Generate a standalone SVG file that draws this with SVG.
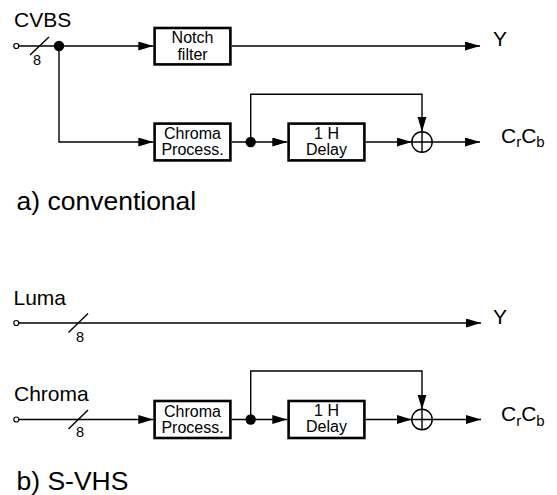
<svg xmlns="http://www.w3.org/2000/svg" width="557" height="495" viewBox="0 0 557 495">
<defs>
<style>
text{font-family:"Liberation Sans",Arial,sans-serif;fill:#000}
.lbl{font-size:21px}
.cap{font-size:26.5px}
.box{font-size:16px;text-anchor:middle}
.num{font-size:14.5px}
.sub{font-size:15px}
rect.b{fill:#fff;stroke:#000;stroke-width:2.6}
.ln{fill:none;stroke:#000;stroke-width:1.4}
.in{fill:#fff;stroke:#000;stroke-width:1.2}
.dot{fill:#000}
.sum{fill:#fff;stroke:#000;stroke-width:1.4}
</style>
<marker id="ar" markerUnits="userSpaceOnUse" markerWidth="16" markerHeight="10" refX="15" refY="4.5" orient="auto" viewBox="0 0 16 10">
<path d="M0,0 L15,4.5 L0,9 z" fill="#000"/>
</marker>
</defs>
<rect width="557" height="495" fill="#fff"/>

<g id="connectors">
<!-- a) conventional -->
<path class="ln" d="M18.7,46 H153.3" marker-end="url(#ar)"/>
<path class="ln" d="M59,46 V142 H153.3" marker-end="url(#ar)"/>
<path class="ln" d="M231.7,46 H480" marker-end="url(#ar)"/>
<path class="ln" d="M231.7,142 H287.3" marker-end="url(#ar)"/>
<path class="ln" d="M250.7,142 V94.3 H422 V131.7" marker-end="url(#ar)"/>
<path class="ln" d="M365.7,142 H411.7" marker-end="url(#ar)"/>
<path class="ln" d="M432.3,142 H480" marker-end="url(#ar)"/>
<path class="ln" d="M30,55 L49,37"/>
<!-- b) S-VHS -->
<path class="ln" d="M18.7,323 H481" marker-end="url(#ar)"/>
<path class="ln" d="M68.5,332.5 L88,313.5"/>
<path class="ln" d="M18.7,419.5 H153.3" marker-end="url(#ar)"/>
<path class="ln" d="M68.5,429 L88,410"/>
<path class="ln" d="M231.7,419.5 H287.3" marker-end="url(#ar)"/>
<path class="ln" d="M250.7,419.5 V371 H422 V409.5" marker-end="url(#ar)"/>
<path class="ln" d="M365.7,419.5 H411.7" marker-end="url(#ar)"/>
<path class="ln" d="M432.3,419.5 H481" marker-end="url(#ar)"/>
</g>

<!-- a) conventional -->
<g id="cvbs-in">
<text class="lbl" x="14" y="27">CVBS</text>
<circle class="in" cx="16.3" cy="46" r="2.5"/>
<text class="num" x="33" y="65">8</text>
</g>
<g id="split-a"><circle class="dot" cx="59" cy="46" r="5.2"/></g>
<g id="notch">
<rect class="b" x="154.6" y="28" width="75.8" height="36.4"/>
<text class="box" x="192.5" y="43">Notch</text>
<text class="box" x="192.5" y="59.5">filter</text>
</g>
<g id="y-out-a"><text class="lbl" x="493" y="46">Y</text></g>
<g id="chroma-a">
<rect class="b" x="154.6" y="123.6" width="75.8" height="36.8"/>
<text class="box" x="192.5" y="138.5">Chroma</text>
<text class="box" x="192.5" y="155">Process.</text>
</g>
<g id="dot-a"><circle class="dot" cx="250.7" cy="142" r="5.2"/></g>
<g id="delay-a">
<rect class="b" x="288.6" y="123.6" width="75.8" height="36.8"/>
<text class="box" x="326.5" y="138.5">1 H</text>
<text class="box" x="326.5" y="155">Delay</text>
</g>
<g id="sum-a">
<circle class="sum" cx="422" cy="142" r="10.2"/>
<path class="ln" d="M411.8,142 H432.2 M422,131.8 V152.2"/>
</g>
<g id="crcb-a"><text class="lbl" x="501" y="142.5">C<tspan class="sub" dy="4.5">r</tspan><tspan dy="-4.5">C</tspan><tspan class="sub" dy="4.5">b</tspan></text></g>
<g id="label-a"><text class="cap" x="16.5" y="210">a) conventional</text></g>

<!-- b) S-VHS -->
<g id="luma-in">
<text class="lbl" x="13.5" y="305">Luma</text>
<circle class="in" cx="16.3" cy="323" r="2.5"/>
<text class="num" x="76" y="341.7">8</text>
</g>
<g id="y-out-b"><text class="lbl" x="493" y="323.5">Y</text></g>
<g id="chroma-in">
<text class="lbl" x="14" y="401">Chroma</text>
<circle class="in" cx="16.3" cy="419.5" r="2.5"/>
<text class="num" x="76" y="436.7">8</text>
</g>
<g id="chroma-b">
<rect class="b" x="154.6" y="401" width="75.8" height="37"/>
<text class="box" x="192.5" y="416.5">Chroma</text>
<text class="box" x="192.5" y="432.5">Process.</text>
</g>
<g id="dot-b"><circle class="dot" cx="250.7" cy="419.5" r="5.2"/></g>
<g id="delay-b">
<rect class="b" x="288.6" y="401" width="75.8" height="37"/>
<text class="box" x="326.5" y="416">1 H</text>
<text class="box" x="326.5" y="432">Delay</text>
</g>
<g id="sum-b">
<circle class="sum" cx="422" cy="419.5" r="10.2"/>
<path class="ln" d="M411.8,419.5 H432.2 M422,409.3 V429.7"/>
</g>
<g id="crcb-b"><text class="lbl" x="501" y="421">C<tspan class="sub" dy="4.5">r</tspan><tspan dy="-4.5">C</tspan><tspan class="sub" dy="4.5">b</tspan></text></g>
<g id="label-b"><text class="cap" x="16.5" y="490">b) S-VHS</text></g>
</svg>
